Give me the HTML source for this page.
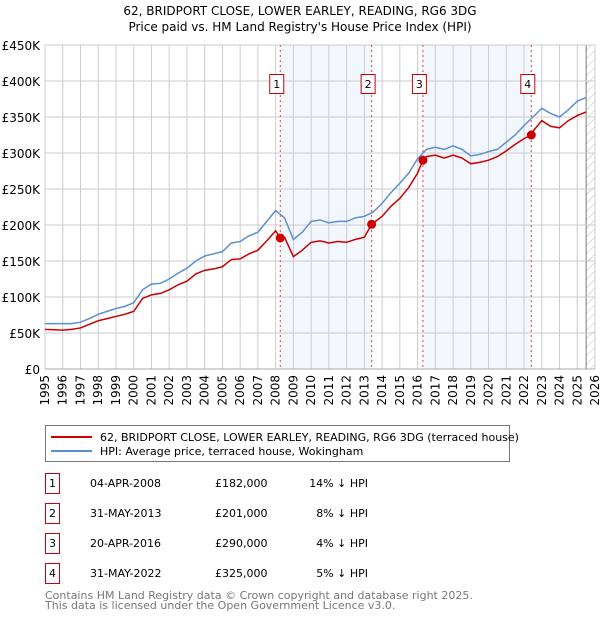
<!DOCTYPE html>
<html><head><meta charset="utf-8"><style>
body{margin:0;background:#fff;}
svg{display:block;font-family:"DejaVu Sans","Liberation Sans",sans-serif;}
</style></head><body>
<svg id="chart" width="600" height="620" xmlns="http://www.w3.org/2000/svg">
<text x="300" y="15" text-anchor="middle" font-size="12">62, BRIDPORT CLOSE, LOWER EARLEY, READING, RG6 3DG</text>
<text x="300" y="31" text-anchor="middle" font-size="12">Price paid vs. HM Land Registry's House Price Index (HPI)</text>
<g id="plot"></g>
<g>
<rect x="45.5" y="425.5" width="464" height="36" fill="#fff" stroke="#777"/>
<line x1="51" y1="437" x2="92" y2="437" stroke="#cc0000" stroke-width="2"/>
<text x="100" y="441" font-size="11">62, BRIDPORT CLOSE, LOWER EARLEY, READING, RG6 3DG (terraced house)</text>
<line x1="51" y1="451" x2="92" y2="451" stroke="#5b8fd0" stroke-width="2"/>
<text x="100" y="455" font-size="11">HPI: Average price, terraced house, Wokingham</text>
</g>
<g id="table"></g>
<text x="45" y="599" font-size="11" fill="#777">Contains HM Land Registry data © Crown copyright and database right 2025.</text>
<text x="45" y="609" font-size="11" fill="#777">This data is licensed under the Open Government Licence v3.0.</text>
</svg>
<script>
const hpiYears=[1995,1996,1996.5,1997,1997.5,1998,1998.5,1999,1999.5,2000,2000.5,2001,2001.5,2002,2002.5,2003,2003.5,2004,2004.5,2005,2005.5,2006,2006.5,2007,2007.5,2008,2008.25,2008.5,2009,2009.5,2010,2010.5,2011,2011.5,2012,2012.5,2013,2013.5,2014,2014.5,2015,2015.5,2016,2016.5,2017,2017.5,2018,2018.5,2019,2019.5,2020,2020.5,2021,2021.5,2022,2022.5,2023,2023.5,2024,2024.5,2025,2025.5];
const hpiValues=[63,63,63,65,70,76,80,84,87,92,110,118,119,125,133,140,150,157,160,163,175,177,185,190,205,220,215,210,180,190,205,207,203,205,205,210,212,218,230,245,258,272,292,305,308,305,310,305,296,298,302,305,315,325,338,350,362,355,350,360,372,377];
const priceYears=[1995,1996,1996.5,1997,1997.5,1998,1998.5,1999,1999.5,2000,2000.5,2001,2001.5,2002,2002.5,2003,2003.5,2004,2004.5,2005,2005.5,2006,2006.5,2007,2007.5,2008,2008.26,2008.5,2009,2009.5,2010,2010.5,2011,2011.5,2012,2012.5,2013,2013.41,2014,2014.5,2015,2015.5,2016,2016.3,2016.5,2017,2017.5,2018,2018.5,2019,2019.5,2020,2020.5,2021,2021.5,2022,2022.41,2022.5,2023,2023.5,2024,2024.5,2025,2025.5];
const priceValues=[55,54,55,57,62,67,70,73,76,80,98,103,105,110,117,122,132,137,139,142,152,153,160,165,178,192,182,183,156,165,176,178,175,177,176,180,183,201,212,226,237,252,272,290,295,297,293,297,293,285,287,290,295,303,312,320,325,330,345,337,335,345,352,357];
const saleLabels=["1","2","3","4"];
const saleYears=[2008.26,2013.41,2016.3,2022.41];
const saleValues=[182,201,290,325];
const saleDates=["04-APR-2008","31-MAY-2013","20-APR-2016","31-MAY-2022"];
const salePrices=["£182,000","£201,000","£290,000","£325,000"];
const saleDiffs=["14% ↓ HPI","8% ↓ HPI","4% ↓ HPI","5% ↓ HPI"];
const yTicks=[0,50,100,150,200,250,300,350,400,450];
const yTickLabels=["£0","£50K","£100K","£150K","£200K","£250K","£300K","£350K","£400K","£450K"];
const xTicks=[1995,1996,1997,1998,1999,2000,2001,2002,2003,2004,2005,2006,2007,2008,2009,2010,2011,2012,2013,2014,2015,2016,2017,2018,2019,2020,2021,2022,2023,2024,2025,2026];
const shadeRanges=[[2008.26,2013.41],[2016.3,2022.41]];
const dataEnd=2025.5;

const NS="http://www.w3.org/2000/svg";
const L=45,R=595,T=45,B=369;
const xs=y=>L+(y-1995)/(2026-1995)*(R-L);
const ys=v=>B-v/450*(B-T);
function mk(tag,attrs,parent,text){const e=document.createElementNS(NS,tag);for(const k in attrs)e.setAttribute(k,attrs[k]);if(text!==undefined)e.textContent=text;parent.appendChild(e);return e;}
const plot=document.getElementById('plot');
mk('rect',{x:L,y:T,width:R-L,height:B-T,fill:'#fff'},plot);
shadeRanges.forEach((r,i)=>{const e=mk('rect',{x:xs(r[0]),y:T,width:xs(r[1])-xs(r[0]),height:B-T,fill:'#f2f6fd'},plot);

});
const defs=mk('defs',{},plot);
const pat=mk('pattern',{id:'hatch',width:6,height:6,patternUnits:'userSpaceOnUse',patternTransform:'rotate(45)'},defs);
mk('line',{x1:0,y1:0,x2:0,y2:6,stroke:'#bbb','stroke-width':1},pat);
const hz=mk('rect',{x:xs(dataEnd),y:T,width:R-xs(dataEnd),height:B-T,fill:'url(#hatch)'},plot);


mk('line',{x1:xs(dataEnd),y1:T,x2:xs(dataEnd),y2:B,stroke:'#777'},plot);
xTicks.forEach((t,i)=>{
mk('line',{x1:xs(t),y1:T,x2:xs(t),y2:B,stroke:'#ccc'},plot);
const tx=mk('text',{x:0,y:0,'font-size':12,'text-anchor':'end',transform:`translate(${xs(t)+4},${B+6}) rotate(-90)`},plot,String(t));

});
yTicks.forEach((t,i)=>{
mk('line',{x1:L,y1:ys(t),x2:R,y2:ys(t),stroke:'#ccc'},plot);
const tx=mk('text',{x:L-5,y:ys(t)+5,'font-size':12,'text-anchor':'end'},plot,yTickLabels[i]);

});
mk('line',{x1:L,y1:B,x2:R,y2:B,stroke:'#aaa'},plot);
saleYears.forEach((y,i)=>{mk('line',{x1:xs(y),y1:T,x2:xs(y),y2:B,stroke:'#e04040','stroke-dasharray':'2,3'},plot);});
const hp=mk('polyline',{points:hpiYears.map((y,i)=>xs(y)+','+ys(hpiValues[i])).join(' '),fill:'none',stroke:'#5b8fd0','stroke-width':1.5},plot);


const pp=mk('polyline',{points:priceYears.map((y,i)=>xs(y)+','+ys(priceValues[i])).join(' '),fill:'none',stroke:'#cc0000','stroke-width':1.5},plot);


saleYears.forEach((y,i)=>{
const d=mk('circle',{cx:xs(y),cy:ys(saleValues[i]),r:4.5,fill:'#cc0000'},plot);


const g=mk('g',{},plot);


mk('rect',{x:xs(y)-10.5,y:74.5,width:14,height:19,fill:'#fff',stroke:'#cc0000'},g);
mk('text',{x:xs(y)-3.5,y:88,'font-size':11,'text-anchor':'middle'},g,saleLabels[i]);});
const tb=document.getElementById('table');
saleLabels.forEach((s,i)=>{const cy=483+i*30;
const g=mk('g',{},tb);


mk('rect',{x:45.5,y:cy-9.5,width:14,height:20,fill:'#fff',stroke:'#cc0000'},g);
mk('text',{x:52.5,y:cy+4,'font-size':11,'text-anchor':'middle'},g,s);
mk('text',{x:90,y:cy+4,'font-size':11},g,saleDates[i]);
mk('text',{x:215,y:cy+4,'font-size':11},g,salePrices[i]);
mk('text',{x:368,y:cy+4,'font-size':11,'text-anchor':'end'},g,saleDiffs[i]);});
</script>
</body></html>
